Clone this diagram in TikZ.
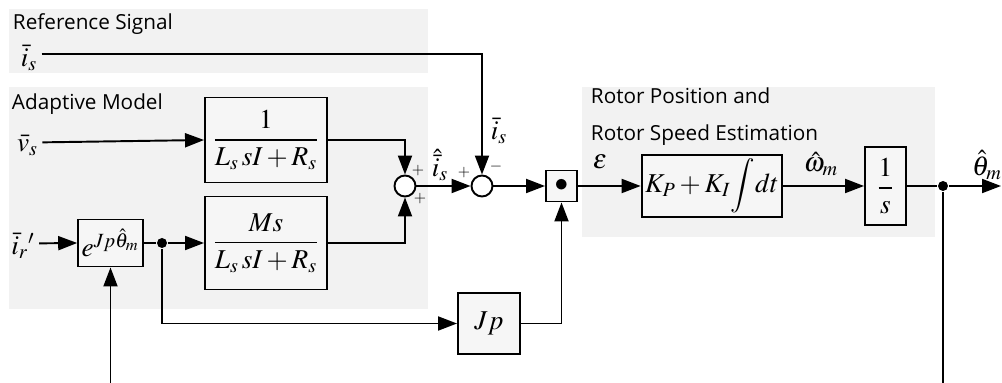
\documentclass[tikz,border=0pt]{standalone}
\usepackage{amsmath}
\usepackage{mathptmx}
\usepackage[no-math]{fontspec}
\setmainfont{Open Sans}
\usepackage{tikz}
\usetikzlibrary{arrows.meta,positioning}
\definecolor{panelgray}{RGB}{242,242,242}
\definecolor{blockgray}{RGB}{246,246,246}
\newcommand{\blkfont}{\fontsize{15.5}{18}\selectfont}
\tikzset{
  panel/.style={fill=panelgray},
  title/.style={anchor=base west, inner sep=0pt, font=\fontsize{11.8}{13}\selectfont},
  blk/.style={rectangle, draw=black, fill=blockgray, inner sep=2pt, font=\blkfont},
  sumc/.style={circle, draw=black, fill=white, inner sep=0pt, minimum size=0.42cm},
  jdot/.style={circle, fill=black, inner sep=0pt, minimum size=0.2cm},
  lab/.style={inner sep=0pt, font=\blkfont},
  sgn/.style={inner sep=0pt, font=\small},
  sig/.style={-{Triangle[length=3.8mm,width=2.8mm]}},
  wire/.style={-}
}

\begin{document}
\begin{tikzpicture}[line width=1.1pt]
  \useasboundingbox (0,0) rectangle (20.04,-7.66);

  \fill[panel] (0.18,-0.18) rectangle (8.56,-1.46);
  \fill[panel] (0.18,-1.74) rectangle (8.56,-6.18);
  \fill[panel] (11.64,-1.74) rectangle (18.70,-4.74);
  \node[title] (reftitle) at (0.24,-0.6) {Reference Signal};
  \node[title] (adtitle) at (0.22,-2.2) {Adaptive Model};
  \node[title] (rotitle) at (11.8,-2.08) {Rotor Position and};
  \node[title] (rstitle) at (11.8,-2.82) {Rotor Speed Estimation};

  \node[lab] (isref) at (0.58,-1.16) {$\bar{i}_s$};
  \node[lab] (vs) at (0.55,-2.9) {$\bar{v}_s$};
  \node[lab] (ir) at (0.46,-4.92) {$\bar{i}_r{}'$};

  \node[blk, minimum width=2.44cm, minimum height=1.7cm] (g1) at (5.32,-2.8)
    {$\dfrac{1}{L_s\,sI+R_s}$};
  \node[blk, minimum width=2.44cm, minimum height=1.86cm] (g2) at (5.32,-4.86)
    {$\dfrac{Ms}{L_s\,sI+R_s}$};
  \node[blk, minimum width=1.22cm, minimum height=0.94cm] (rot) at (2.21,-4.86)
    {$e^{Jp\hat{\theta}_m}$};
  \node[jdot] (split) at (3.24,-4.86) {};

  \node[sumc] (s1) at (8.1,-3.72) {};
  \node[sumc] (s2) at (9.64,-3.72) {};
  \node[blk, minimum size=0.62cm, inner sep=0pt] (prod) at (11.23,-3.72) {$\bullet$};
  \node[blk, minimum width=2.64cm, minimum height=1.18cm] (pi) at (14.24,-3.72)
    {$K_P+K_I\!\displaystyle\int\! dt$};
  \node[blk, minimum width=0.82cm, minimum height=1.56cm] (int) at (17.71,-3.72)
    {$\dfrac{1}{s}$};
  \node[jdot] (odot) at (18.86,-3.72) {};
  \coordinate (out) at (20.02,-3.72);
  \node[blk, minimum width=1.24cm, minimum height=1.22cm] (jp) at (9.78,-6.47) {$Jp$};

  \coordinate (fbbot) at (18.86,-7.66);
  \coordinate (rotbot) at (2.21,-7.66);

  \draw[sig] ([xshift=2pt,yshift=2.5pt]isref.east) -| (s2.north);
  \draw[sig] ([xshift=2pt,yshift=1.5pt]vs.east) -- (g1.west);
  \draw[sig] ([xshift=2pt,yshift=1.5pt]ir.east) -- (rot.west);
  \draw[wire] (rot.east) -- (split);
  \draw[sig] (split) -- (g2.west);
  \draw[sig] (split) |- (jp.west);
  \draw[sig] (g1.east) -| (s1.north);
  \draw[sig] (g2.east) -| (s1.south);
  \draw[sig] (s1.east) -- (s2.west);
  \draw[sig] (s2.east) -- (prod.west);
  \draw[sig] (jp.east) -| (prod.south);
  \draw[sig] (prod.east) -- (pi.west);
  \draw[sig] (pi.east) -- (int.west);
  \draw[wire] (int.east) -- (odot);
  \draw[sig] (odot) -- (out);
  \draw[wire] (odot) -- (fbbot);
  \draw[sig] (rotbot) -- (rot.south);

  \node[sgn] (p1) at (8.36,-3.42) {$+$};
  \node[sgn] (p2) at (8.4,-3.98) {$+$};
  \node[sgn] (p3) at (9.28,-3.46) {$+$};
  \node[sgn] (m1) at (9.92,-3.34) {$-$};
  \node[lab] (ihat) at (8.8,-3.3) {$\hat{\bar{i}}_s$};
  \node[lab] (isum) at (9.98,-2.62) {$\bar{i}_s$};
  \node[lab] (eps) at (12.0,-3.24) {$\varepsilon$};
  \node[lab] (wm) at (16.42,-3.28) {$\hat{\omega}_m$};
  \node[lab] (thm) at (19.74,-3.3) {$\hat{\theta}_m$};
\end{tikzpicture}
\end{document}
